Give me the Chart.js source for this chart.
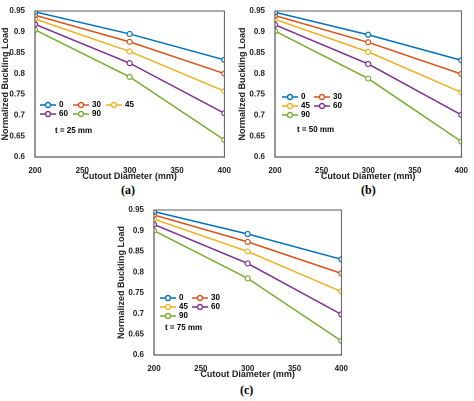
<!DOCTYPE html>
<html><head><meta charset="utf-8">
<script src="https://cdn.jsdelivr.net/npm/chart.js@4"></script>
<style>
body{margin:0;background:#fff;width:474px;height:401px;position:relative;overflow:hidden}
.c{position:absolute}
.lab{position:absolute;font:bold 12px "Liberation Serif",serif;color:#000}
</style></head><body>
<div class="c" style="left:0;top:0;width:232px;height:182px"><canvas id="ca"></canvas></div>
<div class="c" style="left:237px;top:0;width:232px;height:182px"><canvas id="cb"></canvas></div>
<div class="c" style="left:116px;top:199px;width:233px;height:181px"><canvas id="cc"></canvas></div>
<div class="lab" style="left:121px;top:183px">(a)</div>
<div class="lab" style="left:361px;top:183px">(b)</div>
<div class="lab" style="left:240px;top:383px">(c)</div>
<script>
const diameters=[200,300,400];
const angles=['0','30','45','60','90'];
const colors=['#0072BD','#D95319','#EDB120','#7E2F8E','#77AC30'];
const xTicks=[200,250,300,350,400];
const yTicks=[0.6,0.65,0.7,0.75,0.8,0.85,0.9,0.95];
const dataA=[[0.948,0.895,0.833],[0.940,0.876,0.800],[0.931,0.853,0.758],[0.918,0.825,0.705],[0.905,0.792,0.641]];
const dataB=[[0.947,0.893,0.832],[0.939,0.875,0.799],[0.930,0.852,0.755],[0.917,0.823,0.701],[0.902,0.788,0.637]];
const dataC=[[0.946,0.892,0.831],[0.938,0.873,0.797],[0.928,0.850,0.753],[0.915,0.821,0.698],[0.900,0.785,0.634]];
const F='"Liberation Sans",Arial,sans-serif';
const boxPlugin={id:'box',afterDraw(ch,a,o){const c=ch.ctx,A=ch.chartArea;c.save();c.strokeStyle='#333';c.lineWidth=0.8;c.strokeRect(A.left,A.top,A.right-A.left,A.bottom-A.top);
 c.font='bold 8px '+F;c.textBaseline='middle';
 o.rows.forEach((row,ri)=>{row.forEach((si,ci)=>{const x=A.left+o.x+ci*o.colW,y=A.top+o.y+ri*o.rowH;c.strokeStyle=colors[si];c.lineWidth=1.5;c.beginPath();c.moveTo(x,y);c.lineTo(x+16,y);c.stroke();c.beginPath();c.arc(x+8,y,2.5,0,Math.PI*2);c.fillStyle='#fff';c.fill();c.stroke();c.fillStyle='#000';c.fillText(angles[si],x+19,y);});});
 c.fillText(o.t,A.left+o.tx,A.top+o.ty);c.restore();}};
function make(id,data,yw,leg){
 new Chart(document.getElementById(id),{type:'line',
 data:{datasets:data.map((d,i)=>({label:angles[i],data:d.map((v,j)=>({x:diameters[j],y:v})),borderColor:colors[i],backgroundColor:'#fff',borderWidth:1.5,pointRadius:2.5,pointBorderWidth:1.2,pointBackgroundColor:'#fff',tension:0}))},
 options:{animation:false,responsive:true,maintainAspectRatio:false,devicePixelRatio:2,
 layout:{padding:{top:11,right:5}},
 plugins:{legend:{display:false},tooltip:{enabled:false},box:leg},
 scales:{
  x:{type:'linear',min:200,max:400,grid:{display:false},border:{color:'#333'},afterBuildTicks(s){s.ticks=xTicks.map(v=>({value:v}))},ticks:{font:{size:8,weight:'bold',family:F},color:'#222',padding:1,maxRotation:0},title:{display:true,text:'Cutout Diameter (mm)',font:{size:9,weight:'bold',family:F},color:'#222',padding:{top:2,bottom:0}},afterFit(s){s.height=25}},
  y:{min:0.6,max:0.95,grid:{display:false},border:{color:'#333'},afterBuildTicks(s){s.ticks=yTicks.map(v=>({value:v}))},ticks:{font:{size:8,weight:'bold',family:F},color:'#222',padding:2,callback:v=>String(+v.toFixed(2))},title:{display:true,text:'Normalized Buckling Load',font:{size:9,weight:'bold',family:F},color:'#222',padding:{top:0,bottom:1}},afterFit(s){s.width=yw}}
 }},plugins:[boxPlugin]});
}
// push x-axis title below ticks: draw title in its own slot
Chart.defaults.font.family=F;
make('ca',dataA,35,{rows:[[0,1,2],[3,4]],x:5,y:94,rowH:9,colW:33,t:'t = 25 mm',tx:20,ty:120});
make('cb',dataB,38,{rows:[[0,1],[2,3],[4]],x:7,y:86,rowH:9,colW:32,t:'t = 50 mm',tx:22,ty:119});
make('cc',dataC,38,{rows:[[0,1],[2,3],[4]],x:6,y:88,rowH:9,colW:32,t:'t = 75 mm',tx:11,ty:118});
</script>
<style>.c canvas{}</style>
</body></html>
